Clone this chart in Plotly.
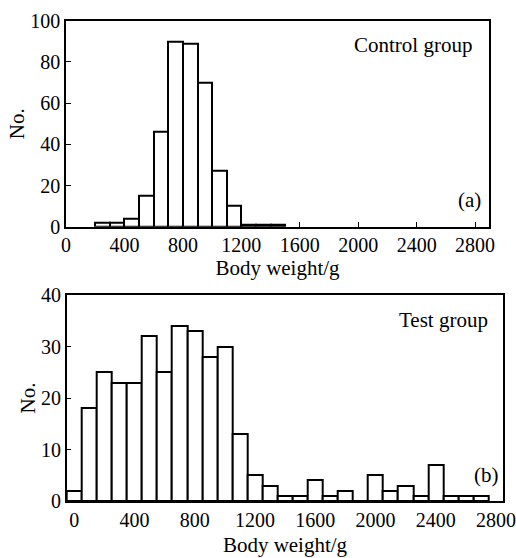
import plotly.graph_objects as go

# Control group (a): bins of 100 g, centres
control_centers = [250, 350, 450, 550, 650, 750, 850, 950, 1050, 1150, 1250, 1350, 1450]
control_counts = [2, 2, 4, 15, 46, 90, 89, 70, 27, 10, 1, 1, 1]

# Test group (b): bins of 100 g, centres
test_centers = [0, 100, 200, 300, 400, 500, 600, 700, 800, 900, 1000, 1100, 1200, 1300,
                1400, 1500, 1600, 1700, 1800, 1900, 2000, 2100, 2200, 2300, 2400, 2500, 2600, 2700]
test_counts = [2, 18, 25, 23, 23, 32, 25, 34, 33, 28, 30, 13, 5, 3,
               1, 1, 4, 1, 2, 0, 5, 2, 3, 1, 7, 1, 1, 1]

x_ticks = [0, 400, 800, 1200, 1600, 2000, 2400, 2800]
x_ticklabels = ["0", "400", "800", "1200", "1600", "2000", "2400", "2800"]
ya_ticks = [0, 20, 40, 60, 80, 100]
yb_ticks = [0, 10, 20, 30, 40]

W, H = 516, 558
FONT = "Liberation Serif"
TICK_SIZE = 20
TITLE_SIZE = 21

fig = go.Figure()
bar_style = dict(marker=dict(color="white", line=dict(color="black", width=2)), width=100,
                 showlegend=False, hoverinfo="x+y")
fig.add_trace(go.Bar(x=control_centers, y=control_counts, xaxis="x", yaxis="y", **bar_style))
fig.add_trace(go.Bar(x=test_centers, y=test_counts, xaxis="x2", yaxis="y2", **bar_style))

def px_x(a, b):
    return [a / W, b / W]

def px_y(top, bottom):
    return [1 - bottom / H, 1 - top / H]

axis_common = dict(showline=True, linecolor="black", linewidth=1.5, mirror=True,
                   showgrid=False, zeroline=False, ticks="inside", ticklen=5,
                   tickcolor="black", tickwidth=1.2, automargin=False,
                   ticklabeloverflow="allow",
                   tickfont=dict(family=FONT, size=TICK_SIZE, color="black"))

title_font = dict(family=FONT, size=TITLE_SIZE, color="black")

fig.update_layout(
    width=W, height=H,
    margin=dict(l=0, r=0, t=0, b=0),
    paper_bgcolor="white", plot_bgcolor="white",
    bargap=0,
    font=dict(family=FONT, size=TICK_SIZE, color="black"),
    xaxis=dict(domain=px_x(66, 489), anchor="y", range=[0, 2895],
               tickvals=x_ticks, ticktext=x_ticklabels,
               title=dict(text="Body weight/g", font=title_font, standoff=0),
               **axis_common),
    yaxis=dict(domain=px_y(20.7, 226.7), anchor="x", range=[0, 100],
               tickvals=ya_ticks,
               title=dict(text="No.", font=title_font, standoff=0),
               **axis_common),
    xaxis2=dict(domain=px_x(66.7, 503.3), anchor="y2", range=[-50, 2848],
                tickvals=x_ticks, ticktext=x_ticklabels,
                title=dict(text="Body weight/g", font=title_font, standoff=8),
                **{**axis_common, "ticks": ""}),
    yaxis2=dict(domain=px_y(295, 501), anchor="x2", range=[0, 40],
                tickvals=yb_ticks,
                title=dict(text="No.", font=title_font, standoff=0),
                **axis_common),
)

ann_font = dict(family=FONT, size=TITLE_SIZE, color="black")
fig.add_annotation(text="Control group", xref="x domain", yref="y domain", x=0.965, y=0.95,
                   xanchor="right", yanchor="top", showarrow=False, font=ann_font)
fig.add_annotation(text="(a)", xref="x domain", yref="y domain", x=0.985, y=0.06,
                   xanchor="right", yanchor="bottom", showarrow=False, font=ann_font)
fig.add_annotation(text="Test group", xref="x2 domain", yref="y2 domain", x=0.97, y=0.945,
                   xanchor="right", yanchor="top", showarrow=False, font=ann_font)
fig.add_annotation(text="(b)", xref="x2 domain", yref="y2 domain", x=0.995, y=0.06,
                   xanchor="right", yanchor="bottom", showarrow=False, font=ann_font)

fig.write_html("out.html", config={"displayModeBar": False},
               post_script="document.body.style.margin='0';document.body.style.overflow='hidden';")
